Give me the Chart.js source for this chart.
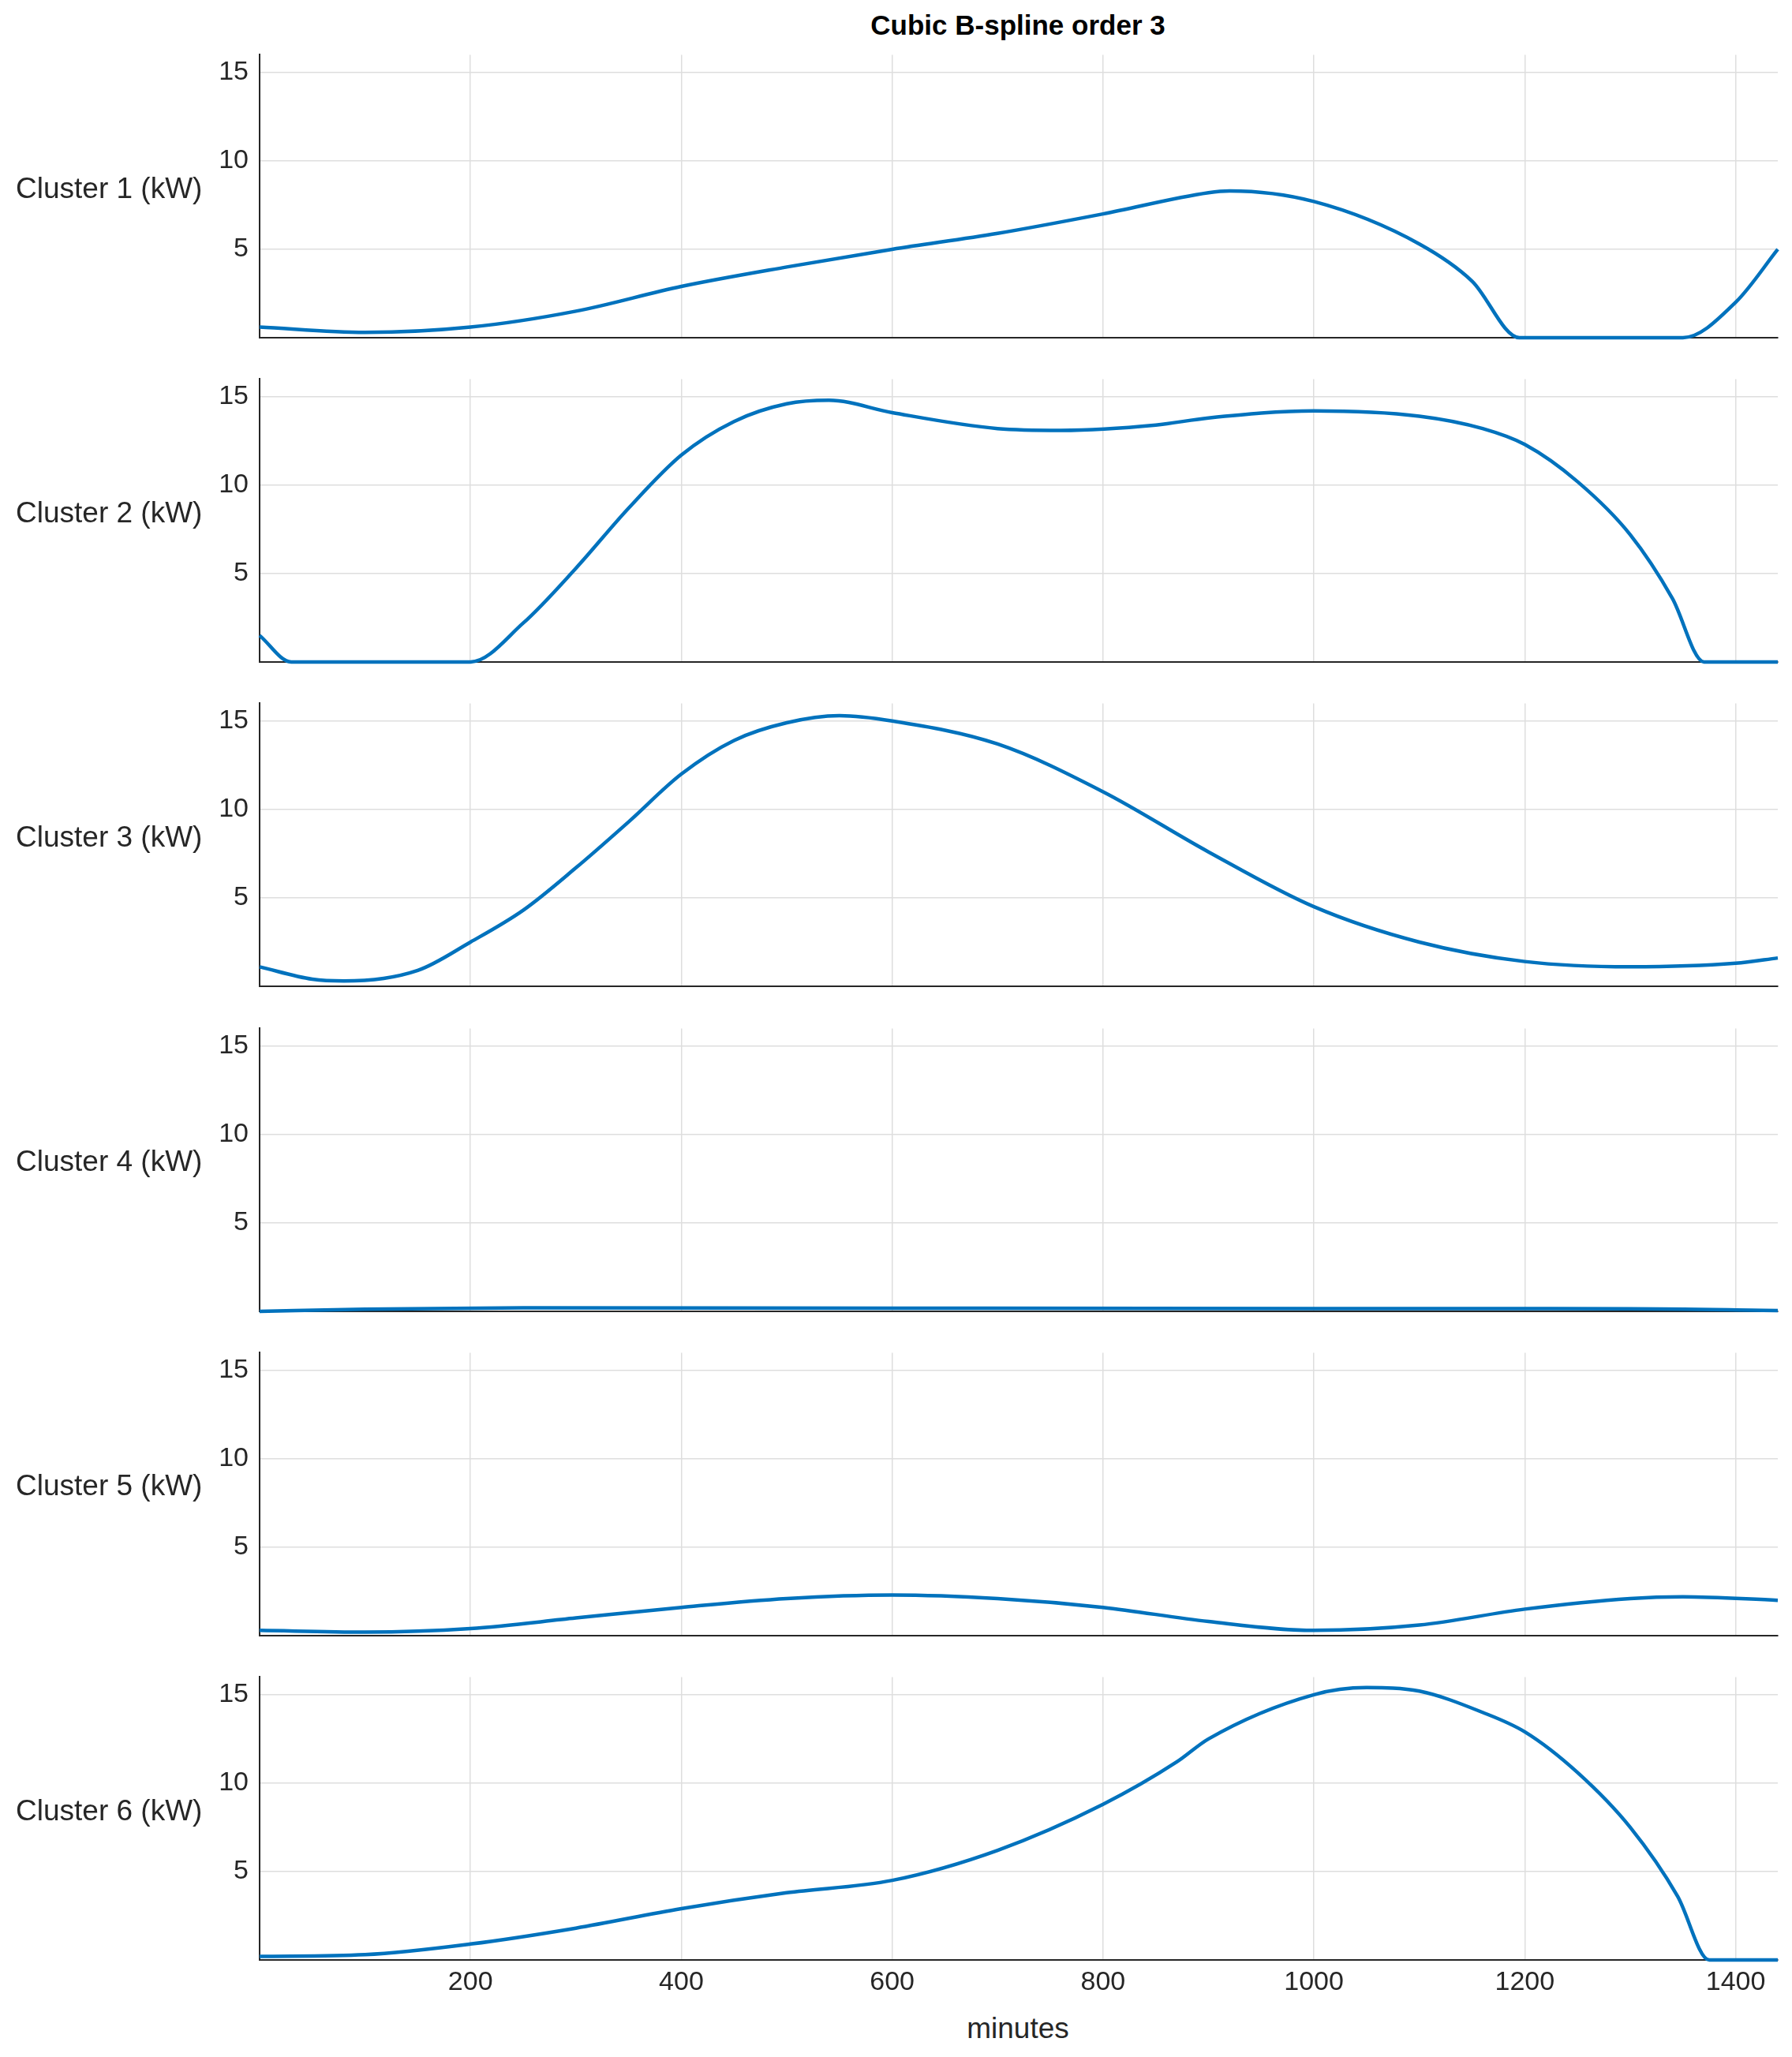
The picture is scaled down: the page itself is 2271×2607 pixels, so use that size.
<!DOCTYPE html>
<html><head><meta charset="utf-8">
<script src="https://cdn.jsdelivr.net/npm/chart.js@4"></script>
<style>
body{margin:0;background:#fff;width:2271px;height:2607px;position:relative;font-family:"Liberation Sans",Arial,sans-serif;color:#262626}
canvas{position:absolute;left:0}
.lab{position:absolute;font-size:37px;white-space:nowrap}
</style></head><body>
<div class="lab" style="left:0;width:2580px;text-align:center;top:12px;font-weight:bold;color:#000;font-size:35px">Cubic B-spline order 3</div>
<div class="lab" style="left:0;width:2580px;text-align:center;top:2550px">minutes</div>
<script>
const xTicks=[200,400,600,800,1000,1200,1400];
const yTicks=[5,10,15];
const labels=["Cluster 1 (kW)","Cluster 2 (kW)","Cluster 3 (kW)","Cluster 4 (kW)","Cluster 5 (kW)","Cluster 6 (kW)"];
const c1x=[0,100,200,300,400,500,600,700,800,900,920,1000,1100,1150,1195,1350,1400,1440];
const c1y=[0.6,0.3,0.6,1.5,2.9,4.0,5.0,5.9,7.0,8.2,8.3,7.7,5.3,3.2,0,0,2.0,5.0];
const c2x=[0,30,200,250,300,350,400,450,500,540,600,700,760,850,900,1000,1100,1160,1200,1250,1300,1340,1370,1440];
const c2y=[1.5,0,0,2.2,5.3,8.7,11.7,13.6,14.6,14.8,14.1,13.2,13.1,13.4,13.8,14.2,13.9,13.2,12.3,10.2,7.2,3.6,0,0];
const c3x=[0,50,80,150,200,250,300,350,400,450,500,550,600,700,800,900,1000,1100,1200,1300,1400,1440];
const c3y=[1.1,0.4,0.3,0.9,2.5,4.3,6.7,9.3,12.0,13.9,14.9,15.3,15.0,13.7,11.0,7.6,4.5,2.5,1.4,1.1,1.3,1.6];
const c4x=[0,100,250,600,1000,1300,1440];
const c4y=[0.0,0.12,0.2,0.18,0.16,0.15,0.05];
const c5x=[0,100,200,300,400,500,600,700,800,900,1000,1100,1200,1300,1350,1440];
const c5y=[0.3,0.2,0.4,1.0,1.6,2.1,2.3,2.1,1.6,0.8,0.3,0.6,1.5,2.1,2.2,2.0];
const c6x=[0,100,200,300,400,500,600,700,800,870,900,1000,1050,1100,1160,1200,1250,1300,1345,1375,1440];
const c6y=[0.2,0.3,0.9,1.8,2.9,3.8,4.5,6.2,8.8,11.2,12.5,15.0,15.4,15.2,14.0,12.9,10.6,7.5,3.6,0,0];
const series=[[c1x,c1y],[c2x,c2y],[c3x,c3y],[c4x,c4y],[c5x,c5y],[c6x,c6y]];
const panelH=373, pad=4, off=20, axH=60;
series.forEach((s,i)=>{
  const bottom=428+i*411.2;
  const top=bottom-panelH-off;
  const cv=document.createElement('canvas');
  cv.width=2271;cv.height=panelH+off+axH;
  cv.style.top=top+'px';
  document.body.appendChild(cv);
  const lb=document.createElement('div');lb.className='lab';lb.textContent=labels[i];
  lb.style.left='20px';lb.style.top=(bottom-panelH/2-24)+'px';document.body.appendChild(lb);
  const last=i===5;
  new Chart(cv,{type:'line',
    data:{datasets:[{data:s[0].map((x,k)=>({x:x,y:s[1][k]})),borderColor:'#0072BD',borderWidth:4.5,pointRadius:0,cubicInterpolationMode:'monotone',clip:false}]},
    options:{responsive:false,animation:false,devicePixelRatio:1,
      layout:{padding:{left:0,right:18,top:pad,bottom:0}},
      plugins:{legend:{display:false},tooltip:{enabled:false}},
      scales:{
        x:{type:'linear',min:0,max:1440,afterFit:sc=>{sc.height=axH;},
          afterBuildTicks:sc=>{sc.ticks=xTicks.map(v=>({value:v}));},
          grid:{color:'#dedede',lineWidth:1.5,tickLength:0},border:{color:'#262626',width:2},
          ticks:{display:last,color:'#262626',font:{size:34,family:'"Liberation Sans",Arial'},maxRotation:0,padding:8,callback:v=>String(v)}},
        y:{min:0,max:16,afterFit:sc=>{sc.width=329;},
          afterBuildTicks:sc=>{sc.ticks=yTicks.map(v=>({value:v}));},
          grid:{color:'#dedede',lineWidth:1.5,tickLength:0},border:{color:'#262626',width:2},
          ticks:{color:'#262626',font:{size:34,family:'"Liberation Sans",Arial'},padding:14,callback:v=>String(v)}}
      }}});
});
</script>
</body></html>
